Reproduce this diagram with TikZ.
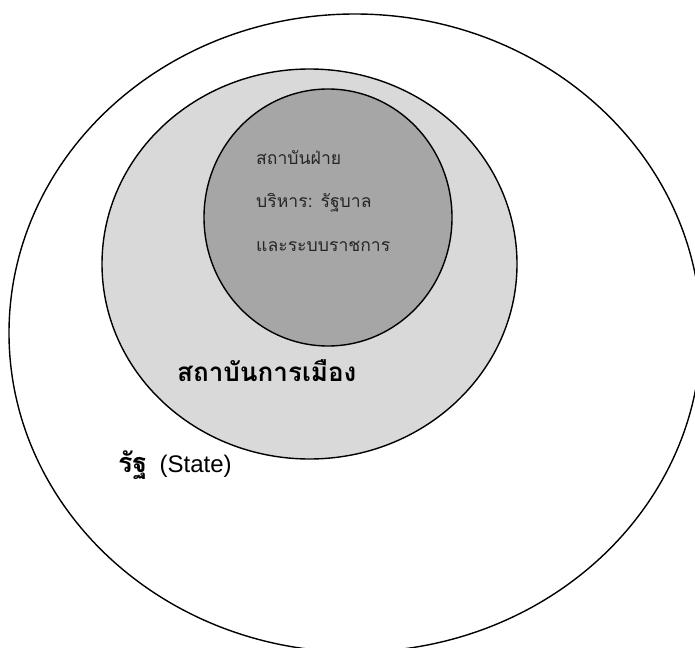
\documentclass[tikz,border=0pt]{standalone}
\usepackage{fontspec}
\setmainfont{Liberation Sans}
\newfontfamily\thaifont[Script=Thai]{Loma}
\usetikzlibrary{shapes.geometric}
\definecolor{midgray}{HTML}{D9D9D9}
\definecolor{darkgray2}{HTML}{A6A6A6}
\tikzset{
  ring/.style={ellipse, draw=black, line width=1.4pt, inner sep=0pt},
  innertxt/.style={anchor=west, inner sep=0pt, font=\thaifont\fontsize{17.6}{20}\selectfont, text=black!85},
}
\begin{document}
\begin{tikzpicture}[x=1pt,y=-1pt]
\useasboundingbox (0,0) rectangle (695,647);
\fill[white] (0,0) rectangle (695,647);
\begin{scope}
\clip (0,0) rectangle (695,647);
\node[ring, fill=white, minimum width=692pt, minimum height=638pt] (state) at (355,333) {};
\node[ring, fill=midgray, minimum width=415pt, minimum height=390pt] (polit) at (309.5,264) {};
\node[ring, fill=darkgray2, minimum width=248pt, minimum height=257pt] (exec) at (328,217.5) {};
\end{scope}
\node[innertxt] (t1) at (256,158) {สถาบันฝ่าย};
\node[innertxt] (t2) at (256,203) {บริหาร: รัฐบาล};
\node[innertxt] (t3) at (256,246) {และระบบราชการ};
\node[anchor=west, inner sep=0pt, font=\thaifont\bfseries\fontsize{26}{30}\selectfont] (pol) at (177,371) {สถาบันการเมือง};
\node[anchor=west, inner sep=0pt] (st) at (118,465) {{\thaifont\bfseries\fontsize{27}{30}\selectfont รัฐ}\hspace{12pt}{\fontsize{24}{28}\selectfont (State)}};
\end{tikzpicture}
\end{document}
